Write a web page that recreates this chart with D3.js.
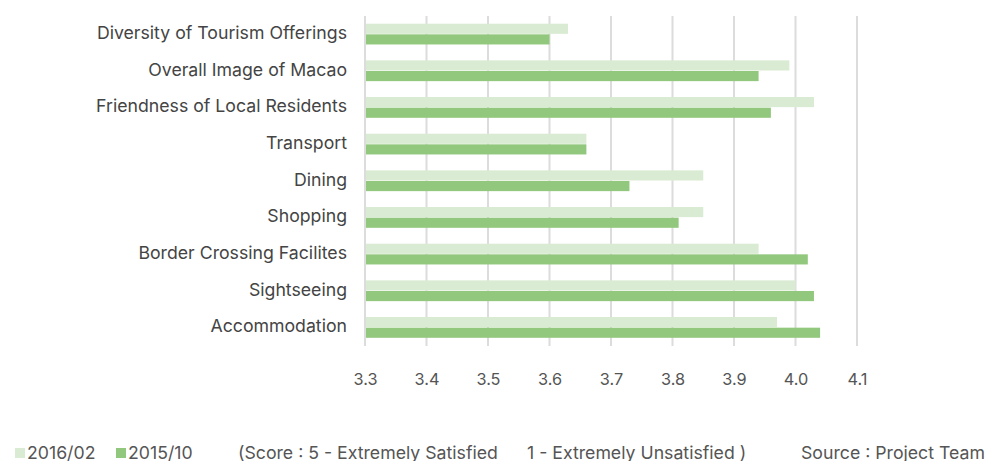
<!DOCTYPE html>
<html>
<head>
<meta charset="utf-8">
<script src="https://cdn.jsdelivr.net/npm/d3@7"></script>
<style>
  html, body { margin: 0; padding: 0; background: #fff; }
  svg { display: block; font-family: Inter, "Noto Sans", sans-serif; }
</style>
</head>
<body>
<svg id="chart" width="986" height="461"></svg>
<script>
const categories = [
  "Diversity of Tourism Offerings",
  "Overall Image of Macao",
  "Friendness of Local Residents",
  "Transport",
  "Dining",
  "Shopping",
  "Border Crossing Facilites",
  "Sightseeing",
  "Accommodation"
];
const seriesNames = ["2016/02", "2015/10"];
const values2016_02 = [3.63, 3.99, 4.03, 3.66, 3.85, 3.85, 3.94, 4.00, 3.97];
const values2015_10 = [3.60, 3.94, 3.96, 3.66, 3.73, 3.81, 4.02, 4.03, 4.04];
const tickValues = [3.3, 3.4, 3.5, 3.6, 3.7, 3.8, 3.9, 4.0, 4.1];
const colors = ["#d9ebd2", "#92c87d"];
const noteText = "(Score : 5 - Extremely Satisfied";
const noteText2 = "1 - Extremely Unsatisfied )";
const sourceText = "Source : Project Team";

(function () {
const svg = d3.select("#chart");
const plotLeft = 365, plotRight = 857, plotTop = 16, plotBottom = 346;

const x = d3.scaleLinear().domain([3.3, 4.1]).range([plotLeft, plotRight]);
const y = d3.scaleBand().domain(categories).range([plotTop, plotBottom]).paddingInner(0.42).paddingOuter(0.21);
const ySub = d3.scaleBand().domain(seriesNames).range([0, y.bandwidth()]);

// grid lines
svg.append("g").selectAll("line").data(tickValues).join("line")
  .attr("x1", d => x(d)).attr("x2", d => x(d))
  .attr("y1", plotTop).attr("y2", plotBottom)
  .attr("stroke", "#dcdcdc").attr("stroke-width", 2);

// bars
const data = categories.map((c, i) => ({ c, vals: [values2016_02[i], values2015_10[i]] }));
const groups = svg.append("g").selectAll("g").data(data).join("g")
  .attr("transform", d => `translate(0,${y(d.c)})`);
groups.selectAll("rect").data(d => d.vals.map((v, j) => ({ v, s: seriesNames[j], j })))
  .join("rect")
  .attr("x", x(3.3) + 1)
  .attr("y", d => ySub(d.s))
  .attr("width", d => x(d.v) - x(3.3) - 1)
  .attr("height", ySub.bandwidth() - 0.5)
  .attr("fill", d => colors[d.j]);

// y-axis labels
const yAxis = d3.axisLeft(y).tickSize(0).tickPadding(0);
const yg = svg.append("g").attr("transform", `translate(${plotLeft - 18},0)`).call(yAxis);
yg.select(".domain").remove();
yg.selectAll("text").attr("font-size", 17.7).attr("fill", "#444")
  .attr("font-family", "Inter, sans-serif").attr("dy", "0.27em");

// x-axis labels
const xAxis = d3.axisBottom(x).tickValues(tickValues).tickFormat(d3.format(".1f")).tickSize(0).tickPadding(0);
const xg = svg.append("g").attr("transform", `translate(0,372)`).call(xAxis);
xg.select(".domain").remove();
xg.selectAll("text").attr("font-size", 16.3).attr("fill", "#555")
  .attr("font-family", "Inter, sans-serif").attr("dy", "0.78em");

// legend
const legend = svg.append("g").attr("font-family", "Inter, sans-serif").attr("font-size", 17.7).attr("fill", "#555");
const legX = [15, 116];
seriesNames.forEach((s, i) => {
  legend.append("rect").attr("x", legX[i]).attr("y", 448).attr("width", 10).attr("height", 10).attr("fill", colors[i]);
  legend.append("text").attr("x", legX[i] + 12).attr("y", 459).text(s);
});
legend.append("text").attr("x", 238).attr("y", 459).text(noteText);
legend.append("text").attr("x", 527).attr("y", 459).text(noteText2);
legend.append("text").attr("x", 801).attr("y", 459).text(sourceText);
})();
</script>
</body>
</html>
